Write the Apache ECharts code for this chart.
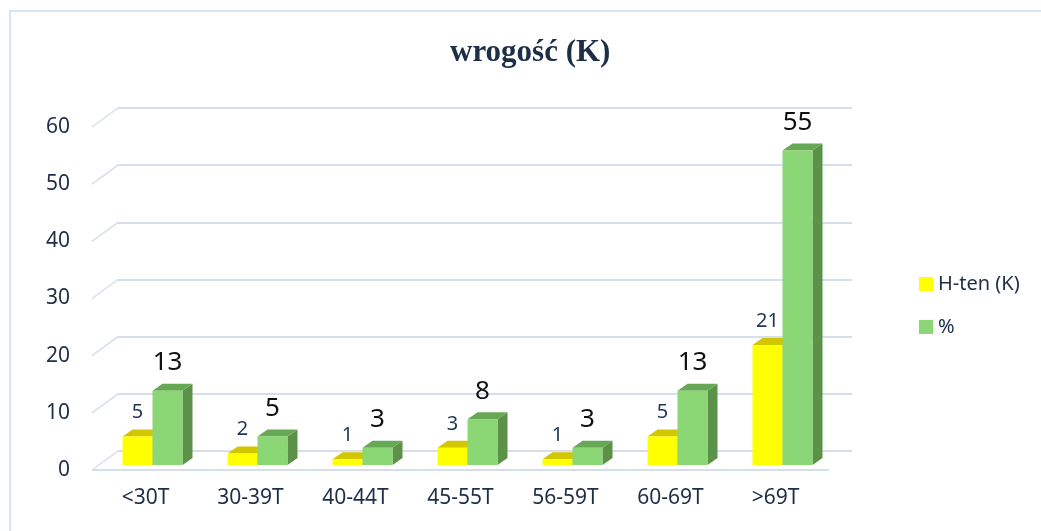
<!DOCTYPE html>
<html>
<head>
<meta charset="utf-8">
<script src="https://cdn.jsdelivr.net/npm/echarts@6/dist/echarts.min.js"></script>
<style>
  html, body { margin: 0; padding: 0; overflow: hidden; background: #fff; }
  #frame { position: absolute; left: 9px; top: 10px; width: 1100px; height: 600px;
           border: 2px solid #d5e3f3; box-sizing: border-box; }
  #chart { position: absolute; left: 0; top: 0; width: 1041px; height: 531px; }
</style>
</head>
<body>
<div id="frame"></div>
<div id="chart"></div>
<script>
// chart data
var categories = ['<30T', '30-39T', '40-44T', '45-55T', '56-59T', '60-69T', '>69T'];
var hTen = [5, 2, 1, 3, 1, 5, 21];
var percent = [13, 5, 3, 8, 3, 13, 55];
var yTicks = [0, 10, 20, 30, 40, 50, 60];

var navy = '#1d2e46';
var gridColor = '#d6deeb';
var font = 'Noto Sans';

// 3d column drawn on the bars grid: front face, top face, right side face
function columnRenderer(off, front, topCol, sideCol, labelCol, labelSize, labelGap) {
  return function (params, api) {
    var i = api.value(0), v = api.value(1);
    var base = api.coord([i, 0]);
    var top = api.coord([i, v]);
    var bw = api.size([1, 0])[0] * 0.2857;
    var x0 = base[0] + off * bw, x1 = x0 + bw;
    var dx = 10, dy = -7;
    var yt = top[1], yb = base[1];
    return {
      type: 'group',
      children: [
        { type: 'polygon', shape: { points: [[x1, yt], [x1 + dx, yt + dy], [x1 + dx, yb + dy], [x1, yb]] },
          style: { fill: sideCol } },
        { type: 'polygon', shape: { points: [[x0, yt], [x1, yt], [x1 + dx, yt + dy], [x0 + dx, yt + dy]] },
          style: { fill: topCol } },
        { type: 'rect', shape: { x: x0, y: yt, width: bw, height: yb - yt },
          style: { fill: front } },
        { type: 'text', x: (x0 + x1) / 2, y: yt - labelGap,
          style: { text: String(v), fill: labelCol, fontSize: labelSize, fontFamily: font,
                   align: 'center', verticalAlign: 'middle' } }
      ]
    };
  };
}

var chart = echarts.init(document.getElementById('chart'));

var option = {
  animation: false,
  title: {
    text: 'wrogość (K)',
    left: 450,
    top: 37,
    padding: 0,
    textStyle: { fontFamily: 'Liberation Serif', fontWeight: 'bold', fontSize: 31, color: navy }
  },
  legend: {
    orient: 'vertical',
    left: 914,
    top: 269,
    itemWidth: 14,
    itemHeight: 14,
    itemGap: 23,
    itemStyle: { borderWidth: 0 },
    icon: 'rect',
    textStyle: { fontFamily: font, fontSize: 20, color: navy },
    data: ['H-ten (K)', '%']
  },
  grid: [
    // back wall
    { left: 118, top: 108, width: 734, height: 343 },
    // front plane (axis labels)
    { left: 93, top: 127, width: 735, height: 343 },
    // column plane
    { left: 100, top: 122, width: 735, height: 343 }
  ],
  xAxis: [
    { gridIndex: 0, type: 'value', min: 0, max: 7, show: false },
    { gridIndex: 1, type: 'category', data: categories,
      axisLine: { lineStyle: { color: gridColor, width: 2 } },
      axisTick: { show: false },
      axisLabel: { color: navy, fontSize: 21, fontFamily: font, margin: 18 } },
    { gridIndex: 2, type: 'category', data: categories, show: false }
  ],
  yAxis: [
    { gridIndex: 0, type: 'value', min: 0, max: 60, interval: 10,
      axisLine: { show: false }, axisTick: { show: false }, axisLabel: { show: false },
      splitLine: { lineStyle: { color: gridColor, width: 2 } } },
    { gridIndex: 1, type: 'value', min: 0, max: 60, interval: 10,
      axisLine: { show: false }, axisTick: { show: false }, splitLine: { show: false },
      axisLabel: { color: navy, fontSize: 21, fontFamily: font, margin: 23 } },
    { gridIndex: 2, type: 'value', min: 0, max: 60, interval: 10, show: false }
  ],
  series: [
    {
      // side wall gridlines
      type: 'custom',
      xAxisIndex: 0, yAxisIndex: 0,
      silent: true,
      data: yTicks.map(function (t) { return [0, t]; }),
      renderItem: function (params, api) {
        var p = api.coord([0, api.value(1)]);
        return { type: 'line', shape: { x1: p[0], y1: p[1], x2: p[0] - 26, y2: p[1] + 19 },
                 style: { stroke: gridColor, lineWidth: 1.5 } };
      }
    },
    {
      name: 'H-ten (K)',
      type: 'custom',
      xAxisIndex: 2, yAxisIndex: 2,
      itemStyle: { color: '#ffff00' },
      data: hTen.map(function (v, i) { return [i, v]; }),
      renderItem: columnRenderer(-1, '#ffff00', '#d2c600', '#c9bd00', '#1f3553', 20, 24),
      z: 3
    },
    {
      name: '%',
      type: 'custom',
      xAxisIndex: 2, yAxisIndex: 2,
      itemStyle: { color: '#8bd675' },
      data: percent.map(function (v, i) { return [i, v]; }),
      renderItem: columnRenderer(0, '#8bd675', '#67a855', '#5b9248', '#111111', 26, 28),
      z: 4
    }
  ]
};

chart.setOption(option);
</script>
</body>
</html>
